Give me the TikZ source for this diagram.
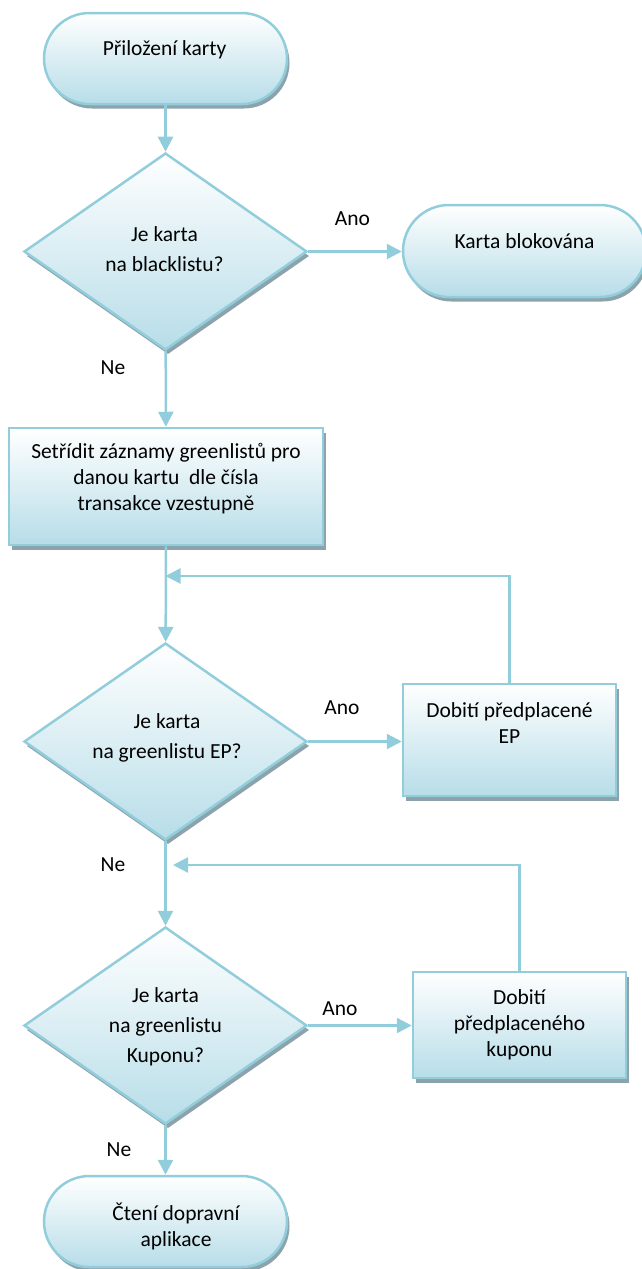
\documentclass[tikz,border=0pt]{standalone}
\usepackage{fontspec}
\setmainfont{Carlito}
\usetikzlibrary{shapes.geometric,shapes.misc,shadows,arrows.meta}
\definecolor{edgeblue}{RGB}{146,205,220}
\definecolor{fillblue}{RGB}{183,221,232}
\definecolor{shadowc}{RGB}{140,163,172}
\begin{document}
\begin{tikzpicture}[x=1pt,y=-1pt,
  shapebase/.style={draw=edgeblue, line width=2.5pt, top color=white, bottom color=fillblue,
    drop shadow={shadow xshift=2.5pt,shadow yshift=-4.5pt,fill=shadowc,opacity=1}, inner sep=0pt},
  term/.style={shapebase, rounded rectangle, minimum width=243pt, minimum height=91pt},
  dec/.style={shapebase, diamond, minimum width=283pt, minimum height=197pt},
  proc/.style={shapebase, rectangle},
  txt/.style={font=\fontsize{21.5}{26}\selectfont, align=center, inner sep=0pt, text=black},
  dtxt/.style={font=\fontsize{21.5}{30}\selectfont, align=center, inner sep=0pt, text=black},
  lbl/.style={font=\fontsize{21.5}{26}\selectfont, inner sep=0pt, text=black},
  conn/.style={draw=edgeblue, line width=2.5pt, -{Triangle[length=15pt,width=15pt]}},
  plain/.style={draw=edgeblue, line width=2.5pt}]
\useasboundingbox (0,0) rectangle (641,1269);

% shapes
\node[term] (t1) at (165.5,58.5) {};
\node[dec] (d1) at (165.5,251.5) {};
\node[term, minimum height=92pt] (t2) at (524.5,251) {};
\node[proc, minimum width=314pt, minimum height=117pt] (r1) at (166,486.5) {};
\node[dec] (d2) at (165.5,741.5) {};
\node[proc, minimum width=213pt, minimum height=112pt] (r2) at (509.5,740) {};
\node[dec] (d3) at (165.5,1025.5) {};
\node[proc, minimum width=213pt, minimum height=106pt] (r3) at (519.5,1025) {};
\node[term] (t3) at (165.5,1221.5) {};

% texts
\node[txt] (t1x) at (164.5,50) {Přiložení karty};
\node[dtxt] (d1x) at (164.5,249) {Je karta\\na blacklistu?};
\node[txt] (t2x) at (524.5,241) {Karta blokována};
\node[txt] (r1x) at (166,479) {Setřídit záznamy greenlistů pro\\danou kartu~ dle čísla\\transakce vzestupně};
\node[dtxt] (d2x) at (167,738) {Je karta\\na greenlistu EP?};
\node[txt] (r2x) at (509.5,723) {Dobití předplacené\\EP};
\node[dtxt] (d3x) at (165.5,1027) {Je karta\\na greenlistu\\Kuponu?};
\node[txt] (r3x) at (519.5,1025) {Dobití\\předplaceného\\kuponu};
\node[txt] (t3x) at (176,1226) {Čtení dopravní\\aplikace};

% connectors
\draw[conn] (t1) -- (d1);
\draw[conn] (d1.east) -- (d1.east -| t2.west);
\draw[conn] (d1) -- (r1);
\draw[conn] (r1) -- (d2);
\draw[conn] (d2.east) -- (d2.east -| r2.west);
\draw[conn] (d2) -- (d3);
\draw[conn] (d3.east) -- (d3.east -| r3.west);
\draw[conn] (d3) -- (t3);

\coordinate (j1) at (165.5,576);
\coordinate (j2) at (173,865);
\draw[conn] (r2.north) |- (j1);
\draw[conn] (r3.north) |- (j2);

% branch labels
\node[lbl] (a1) at (352.5,219) {Ano};
\node[lbl] (n1) at (113,368) {Ne};
\node[lbl] (a2) at (342,708) {Ano};
\node[lbl] (n2) at (113,865) {Ne};
\node[lbl] (a3) at (340,1009) {Ano};
\node[lbl] (n3) at (119,1150) {Ne};
\end{tikzpicture}
\end{document}
